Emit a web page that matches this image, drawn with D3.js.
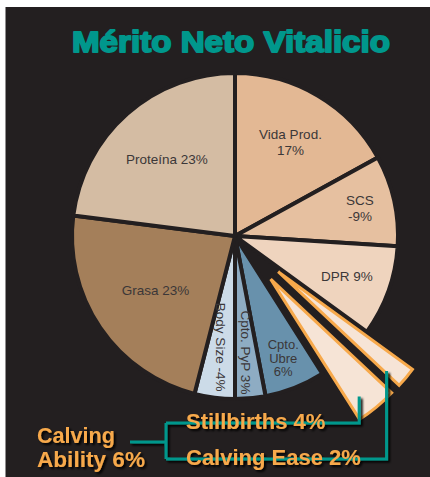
<!DOCTYPE html>
<html>
<head>
<meta charset="utf-8">
<script src="https://cdn.jsdelivr.net/npm/d3@7"></script>
<style>
  body { margin: 0; background: #fff; }
  text { font-family: "Liberation Sans", Arial, sans-serif; }
</style>
</head>
<body>
<div id="container"></div>
<script>
/* CONSTANTS AND GLOBALS */
const width = 430,
  height = 477;
const cx = 235, cy = 236, radius = 163;
const explodeBy = 56, wedgeRadius = 166;

/* DATA */
const traits = ["Vida Prod.", "SCS", "DPR", "Calving Ease", "Stillbirths", "Cpto. Ubre", "Cpto. PyP", "Body Size", "Grasa", "Proteína"];
const weights = [17, 9, 9, 2, 4, 6, 3, 4, 23, 23];   // relative emphasis, %
const sliceLabels = [["Vida Prod.", "17%"], ["SCS", "-9%"], ["DPR 9%"], [], [], ["Cpto.", "Ubre", "6%"], ["Cpto. PyP 3%"], ["Body Size -4%"], ["Grasa 23%"], ["Proteína 23%"]];
const explodedTraits = ["Calving Ease", "Stillbirths"];
const groupLabel = ["Calving", "Ability 6%"];
const calvingLabels = { "Stillbirths": "Stillbirths 4%", "Calving Ease": "Calving Ease 2%" };
const title = "Mérito Neto Vitalicio";

// styles / layout
const sliceColors = ["#e3b894", "#e6c0a0", "#efd4be", "#f6e4d6", "#f6e4d6", "#6891ac", "#8eacc3", "#ccdbe8", "#a47f5a", "#d4bca3"];
const labelRadius = [109, 128, 119, 0, 0, 131, 117, 112, 96, 103];
const labelRotate = [0, 0, 0, 0, 0, 0, 90, 90, 0, 0];
const anchorFrac = { "Calving Ease": 0.9, "Stillbirths": 0.68 };
const bg = "#231f20", teal = "#00978c", orange = "#f7a94b";

const data = traits.map((t, i) => ({ trait: t, weight: weights[i], label: sliceLabels[i], color: sliceColors[i], lr: labelRadius[i], rot: labelRotate[i] }));

// CREATE SVG ELEMENT
const svg = d3.select("#container")
  .append("svg")
  .attr("width", width)
  .attr("height", height);

const defs = svg.append("defs");
defs.append("filter")
  .attr("id", "shadow")
  .attr("x", "-10%").attr("y", "-30%").attr("width", "130%").attr("height", "170%")
  .append("feDropShadow")
  .attr("dx", 2).attr("dy", 2)
  .attr("stdDeviation", 0.8)
  .attr("flood-color", "#000")
  .attr("flood-opacity", 0.95);

svg.append("rect")
  .attr("x", 5.5).attr("y", 7)
  .attr("width", width - 5.5).attr("height", height - 7)
  .attr("fill", bg);

// TITLE
svg.append("text")
  .attr("x", 231).attr("y", 52)
  .attr("text-anchor", "middle")
  .attr("font-size", 30)
  .attr("font-weight", "bold")
  .attr("fill", teal)
  .attr("stroke", teal)
  .attr("stroke-width", 1.8)
  .attr("stroke-linejoin", "round")
  .attr("textLength", 318)
  .attr("lengthAdjust", "spacingAndGlyphs")
  .text(title);

// PIE
const pie = d3.pie().sort(null).value(d => d.weight);
const arcs = pie(data);
const arcGen = d3.arc().innerRadius(0).outerRadius(radius);
const wedgeArc = d3.arc().innerRadius(0).outerRadius(wedgeRadius);

const g = svg.append("g").attr("transform", `translate(${cx},${cy})`);

const mainArcs = arcs.filter(d => !explodedTraits.includes(d.data.trait));
const outArcs = arcs.filter(d => explodedTraits.includes(d.data.trait));

g.selectAll(".slice")
  .data(mainArcs)
  .join("path")
  .attr("class", "slice")
  .attr("d", arcGen)
  .attr("fill", d => d.data.color)
  .attr("stroke", bg)
  .attr("stroke-width", 4)
  .attr("stroke-linejoin", "round");

// exploded calving slices
const offset = d => {
  const a = (d.startAngle + d.endAngle) / 2;
  return [explodeBy * Math.sin(a), -explodeBy * Math.cos(a)];
};
g.selectAll(".wedge")
  .data(outArcs)
  .join("path")
  .attr("class", "wedge")
  .attr("transform", d => `translate(${offset(d)})`)
  .attr("d", wedgeArc)
  .attr("fill", d => d.data.color)
  .attr("stroke", orange)
  .attr("stroke-width", 3);

// SLICE LABELS
const lab = g.selectAll(".lab")
  .data(mainArcs.filter(d => d.data.label.length))
  .join("text")
  .attr("class", "lab")
  .attr("text-anchor", "middle")
  .attr("font-size", d => d.data.label.length > 2 ? 13 : 13.5)
  .attr("fill", "#3b3738")
  .attr("transform", d => {
    const a = (d.startAngle + d.endAngle) / 2;
    const x = d.data.lr * Math.sin(a), y = -d.data.lr * Math.cos(a);
    return `translate(${x},${y}) rotate(${d.data.rot})`;
  });
lab.each(function(d) {
  const lines = d.data.label;
  const lh = lines.length > 2 ? 13.5 : 16;
  d3.select(this).selectAll("tspan")
    .data(lines)
    .join("tspan")
    .attr("x", 0)
    .attr("y", (l, i) => (i - (lines.length - 1) / 2) * lh + 5)
    .text(l => l);
});

// CALVING ANNOTATION
const anchor = {};
outArcs.forEach(d => {
  const [ox, oy] = offset(d);
  const a = d.startAngle + anchorFrac[d.data.trait] * (d.endAngle - d.startAngle);
  anchor[d.data.trait] = [cx + ox + 147 * Math.sin(a), cy + oy - 147 * Math.cos(a)];
});

const branchX = 166, stemY = 442, topY = 423, botY = 459;
const lineGen = d3.line();
const ann = svg.append("g").attr("filter", "url(#shadow)");

const connectors = [
  [[130, stemY], [branchX, stemY]],
  [[branchX, topY], [branchX, botY]],
  [[branchX, topY], [anchor["Stillbirths"][0], topY], anchor["Stillbirths"]],
  [[branchX, botY], [anchor["Calving Ease"][0], botY], anchor["Calving Ease"]]
];
ann.selectAll(".conn")
  .data(connectors)
  .join("path")
  .attr("class", "conn")
  .attr("d", lineGen)
  .attr("fill", "none")
  .attr("stroke", teal)
  .attr("stroke-width", 3);

ann.selectAll(".group")
  .data(groupLabel)
  .join("text")
  .attr("class", "group")
  .attr("x", 37)
  .attr("y", (d, i) => 443 + i * 24)
  .attr("font-size", 21.5)
  .attr("font-weight", "bold")
  .attr("fill", orange)
  .attr("textLength", (d, i) => i ? 108 : 78)
  .attr("lengthAdjust", "spacingAndGlyphs")
  .text(d => d);

ann.selectAll(".clab")
  .data(["Stillbirths", "Calving Ease"])
  .join("text")
  .attr("class", "clab")
  .attr("x", 186)
  .attr("y", (d, i) => i ? 465 : 429)
  .attr("font-size", 22)
  .attr("font-weight", "bold")
  .attr("fill", orange)
  .text(d => calvingLabels[d]);
</script>
</body>
</html>
